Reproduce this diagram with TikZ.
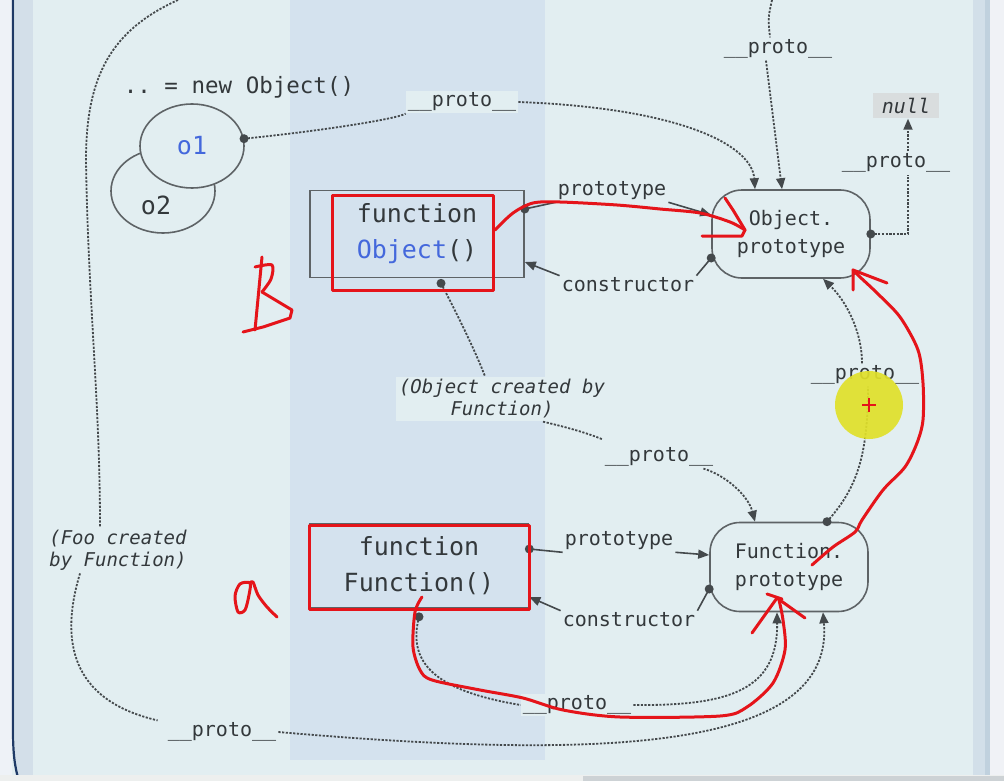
\documentclass[tikz,border=0pt]{standalone}
\usepackage{fontspec}
\setmonofont{DejaVu Sans Mono}
\usetikzlibrary{arrows.meta,shapes.geometric}
\definecolor{bgc}{HTML}{E2EEF1}
\definecolor{bandc}{HTML}{D4E2EE}
\definecolor{ink}{HTML}{33383B}
\definecolor{linec}{HTML}{44494C}
\definecolor{boxc}{HTML}{5E6366}
\definecolor{blu}{HTML}{4468DC}
\definecolor{redc}{HTML}{E5141A}
\definecolor{nullc}{HTML}{D9DDDE}
\definecolor{yel}{HTML}{E0E02A}
\definecolor{leftw}{HTML}{EEF2F7}
\definecolor{leftb}{HTML}{D3DFE9}
\definecolor{leftl}{HTML}{1F3A66}
\definecolor{rightb}{HTML}{D2DFE9}
\definecolor{rightd}{HTML}{C0D1DE}
\definecolor{rightw}{HTML}{F0F2F6}
\definecolor{botw}{HTML}{EDEFEE}
\definecolor{botg}{HTML}{CDD2D5}
\tikzset{
 lbl/.style={font=\ttfamily\fontsize{20}{22}\selectfont, text=ink, inner sep=2pt},
 plbl/.style={lbl, fill=bgc},
 ilbl/.style={font=\ttfamily\itshape\fontsize{19}{22}\selectfont, text=ink, align=center, inner sep=3pt, fill=bgc},
 fnbox/.style={draw=boxc, line width=1.6pt, minimum width=214pt, minimum height=87pt, align=center, inner sep=0pt, font=\ttfamily\fontsize{25}{36}\selectfont, text=ink},
 protobox/.style={draw=boxc, line width=1.6pt, rounded corners=30pt, fill=bgc, minimum width=158pt, minimum height=88pt, align=center, inner sep=0pt, font=\ttfamily\fontsize{20}{28}\selectfont, text=ink},
 objell/.style={ellipse, draw=boxc, line width=1.6pt, fill=bgc, minimum width=104pt, minimum height=84pt, inner sep=0pt, font=\ttfamily\fontsize{25}{28}\selectfont},
 dots/.style={draw=linec, line width=1.8pt, dash pattern=on 2.2pt off 1.5pt},
 solidc/.style={draw=linec, line width=1.6pt},
 endarrow/.style={-{Triangle[length=11pt,width=9pt]}},
 knob/.style={fill=linec},
 redl/.style={draw=redc, line width=3pt, line cap=round, line join=round},
}
\begin{document}
\begin{tikzpicture}[x=1pt,y=-1pt]
\useasboundingbox (0,0) rectangle (1004,781);
% background
\fill[bgc] (0,0) rectangle (1004,781);
\fill[bandc] (290,0) rectangle (545,760);
\fill[leftw] (0,0) rectangle (12,781);
\fill[leftb] (15,0) rectangle (33,781);
\draw[leftl, line width=2.2pt] (13,0) -- (13,730) .. controls (13,755) and (15,768) .. (19,781);
\fill[rightb] (973,0) rectangle (986,781);
\fill[rightd] (985,0) rectangle (990,781);
\fill[rightw] (990,0) rectangle (1004,781);
\fill[botw] (0,775) rectangle (1004,781);
\fill[botg] (583,776) rectangle (1004,781);

% nodes
\node[font=\ttfamily\fontsize{22.5}{24}\selectfont, text=ink] (newobj) at (239,87) {.. = new Object()};
\node[objell] (o2) at (163,191) {};
\node[font=\ttfamily\fontsize{25}{28}\selectfont, text=ink, inner sep=0pt] (o2t) at (156,205) {o2};
\node[objell, text=blu] (o1) at (192,146) {o1};

\node[fnbox] (objfn) at (417,234) {function\\\textcolor{blu}{Object}()};
\node[fnbox, minimum width=219pt, minimum height=84pt] (fnfn) at (419,566) {function\\Function()};
\node[protobox] (objproto) at (791,234) {Object.\\prototype};
\node[protobox, minimum height=89pt] (fnproto) at (789,567) {Function.\\prototype};
\node[font=\ttfamily\itshape\fontsize{20}{22}\selectfont, text=ink, fill=nullc, minimum width=66pt, minimum height=25pt, inner sep=2pt] (null) at (906,106) {null};

% labels
\node[plbl] (lpa) at (462,102) {\_\_proto\_\_};
\node[lbl] (lpt) at (778,49) {\_\_proto\_\_};
\node[lbl] (lpn) at (896,163) {\_\_proto\_\_};
\node[lbl] (lpp1) at (612,191) {prototype};
\node[lbl] (lc1) at (628,285) {constructor};
\node[ilbl] (loc) at (502,399) {(Object created by\\Function)};
\node[lbl] (lp6) at (659,457) {\_\_proto\_\_};
\node[lbl] (lp7) at (865,375) {\_\_proto\_\_};
\node[lbl] (lpp2) at (619,541) {prototype};
\node[lbl] (lc2) at (629,620) {constructor};
\node[ilbl] (lfoo) at (118,550) {(Foo created\\by Function)};
\node[plbl] (lp10) at (577,705) {\_\_proto\_\_};
\node[lbl] (lp11) at (222,732) {\_\_proto\_\_};
\coordinate (topin) at (772,0);
\coordinate (topleft) at (178,0);

% connectors
% o1 -> Object.prototype
\fill[knob] (o1.8) circle (4.5pt);
\draw[dots] (o1.8) .. controls (330,130) and (400,118) .. (lpa.south west);
\draw[dots,endarrow] (lpa.east) .. controls (680,108) and (752,145) .. ([xshift=-36pt]objproto.north);
% top proto
\draw[dots] (topin) .. controls (768,18) .. ([xshift=-8pt]lpt.north);
\draw[dots,endarrow] ([xshift=-12pt]lpt.south) -- ([xshift=-9pt]objproto.north);
% Object.prototype -> null
\fill[knob] (objproto.east) circle (4.5pt);
\draw[dots] (objproto.east) -| ([xshift=12pt]lpn.south);
\draw[dots,endarrow] ([xshift=12pt]lpn.north) -- ([xshift=2pt]null.south);
% prototype (Object)
\fill[knob] ([yshift=25pt]objfn.east) circle (4.5pt);
\draw[solidc] ([yshift=25pt]objfn.east) -- (lpp1.south west);
\draw[solidc,endarrow] (lpp1.south east) -- ([yshift=19pt]objproto.west);
% constructor (Object)
\fill[knob] ([yshift=-24pt]objproto.west) circle (4.5pt);
\draw[solidc] ([yshift=-24pt]objproto.west) -- (lc1.north east);
\draw[solidc,endarrow] (lc1.north west) -- ([yshift=-28pt]objfn.east);
% Object created by Function
\fill[knob] ([xshift=24pt,yshift=-5pt]objfn.south) circle (4.5pt);
\draw[dots] ([xshift=24pt,yshift=-5pt]objfn.south) .. controls (455,310) and (475,350) .. ([xshift=-17pt]loc.north);
\draw[dots] ([xshift=41pt]loc.south) .. controls (570,428) and (590,434) .. ([yshift=6pt]lp6.north west);
\draw[dots,endarrow] ([xshift=-12pt]lp6.south east) .. controls (725,475) and (748,495) .. ([xshift=-34pt]fnproto.north);
% Function.prototype -> Object.prototype
\fill[knob] ([xshift=38pt]fnproto.north) circle (4.5pt);
\draw[dots] ([xshift=38pt]fnproto.north) .. controls (855,490) and (868,460) .. ([xshift=3pt]lp7.south);
\draw[dots,endarrow] ([xshift=-3pt]lp7.north) .. controls (862,330) and (845,300) .. ([xshift=32pt]objproto.south);
% prototype (Function)
\fill[knob] ([yshift=17pt]fnfn.east) circle (4.5pt);
\draw[solidc] ([yshift=17pt]fnfn.east) -- (lpp2.south west);
\draw[solidc,endarrow] (lpp2.south east) -- ([yshift=12pt]fnproto.west);
% constructor (Function)
\fill[knob] ([yshift=-22pt]fnproto.west) circle (4.5pt);
\draw[solidc] ([yshift=-22pt]fnproto.west) -- (lc2.north east);
\draw[solidc,endarrow] (lc2.north west) -- ([yshift=-31pt]fnfn.east);
% Function() -> Function.prototype
\fill[knob] ([yshift=-8pt]fnfn.south) circle (4.5pt);
\draw[dots] ([yshift=-8pt]fnfn.south) .. controls (408,660) and (430,690) .. (lp10.west);
\draw[dots,endarrow] (lp10.east) .. controls (730,706) and (778,690) .. ([xshift=-12pt]fnproto.south);
% Foo created by Function
\draw[dots] (topleft) .. controls (112,30) and (86,75) .. (86,160) .. controls (88,300) and (100,400) .. ([xshift=-18pt]lfoo.north);
\draw[dots] ([xshift=-38pt]lfoo.south) .. controls (60,640) and (70,700) .. ([xshift=-8pt]lp11.north west);
\draw[dots,endarrow] (lp11.east) .. controls (600,760) and (835,752) .. ([xshift=34pt]fnproto.south);

% red annotations
\draw[redl] (332,195) rectangle (493,290);
\draw[redl] (309,525) rectangle (529,609);
% B
\draw[redl] (262,257) -- (255,330);
\draw[redl] plot[smooth] coordinates {(255,267) (272,265) (271,279) (262,292)};
\draw[redl] plot coordinates {(262,292) (292,310) (290,318) (263,327) (243,332)};
% a
\draw[redl] plot[smooth cycle] coordinates {(250,583) (240,584) (235,596) (238,612) (245,610) (249,595)};
\draw[redl] plot[smooth] coordinates {(250,583) (253,582) (258,595) (267,607) (277,617)};
% arrow Object() -> Object.prototype
\draw[redl] plot[smooth] coordinates {(495,230) (513,213) (533,203) (560,202) (617,205) (660,209) (700,213) (730,222) (745,230)};
\draw[redl] (702,236) -- (742,236) -- (745,230) -- (733,210) -- (725,198);
% arrow Function.prototype -> Object.prototype
\draw[redl] plot[smooth] coordinates {(812,565) (833,547) (855,532) (862,520) (883,490) (905,467) (917,443) (923,420) (923,383) (918,350) (900,317) (877,293) (860,277) (853,270)};
\draw[redl] (853,290) -- (853,270) -- (887,283);
% arrow Function() -> Function.prototype
\draw[redl] plot[smooth] coordinates {(422,597) (415,612) (413,647) (420,670) (432,680) (480,690) (523,698) (563,710) (620,717) (720,716) (747,707) (773,683) (785,650) (783,620) (779,600)};
\draw[redl] (752,633) -- (777,598) -- (805,618);
\draw[redl] (767,594) -- (782,599);

% cursor highlight
\fill[yel, opacity=0.92] (869,405) circle (34pt);
\draw[redc, line width=1.6pt] (862,405) -- (876,405) (869,398) -- (869,412);
\end{tikzpicture}
\end{document}
